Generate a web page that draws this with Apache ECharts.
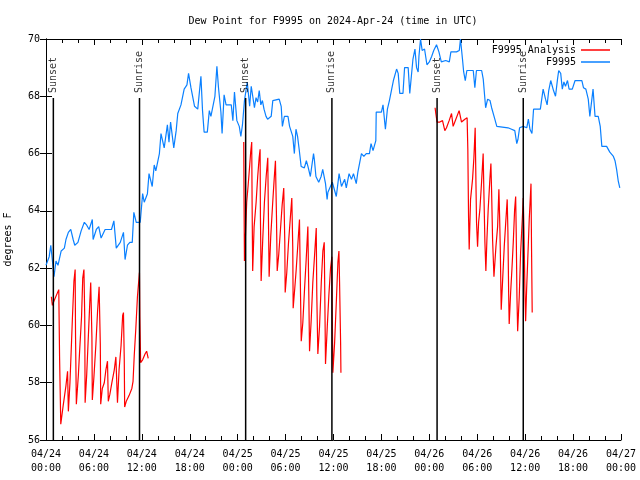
<!DOCTYPE html>
<html><head><meta charset="utf-8">
<script src="https://cdn.jsdelivr.net/npm/echarts@6/dist/echarts.min.js"></script>
<style>html,body{margin:0;padding:0;background:#fff}#c{width:640px;height:480px}</style>
</head><body><div id="c"></div>
<script>
// hours since 2024-04-24 00:00 UTC
const xTickLabels = ["04/24\n00:00","04/24\n06:00","04/24\n12:00","04/24\n18:00","04/25\n00:00","04/25\n06:00","04/25\n12:00","04/25\n18:00","04/26\n00:00","04/26\n06:00","04/26\n12:00","04/26\n18:00","04/27\n00:00"];
const yTicks = [56,58,60,62,64,66,68,70];

const blueHours = [0,0.4,0.6,0.9,1.0,1.25,1.5,1.9,2.3,2.5,2.8,3.1,3.4,3.6,4.0,4.4,4.8,5.1,5.4,5.8,5.9,6.3,6.6,6.9,7.4,8.2,8.5,8.8,9.3,9.7,9.9,10.2,10.5,10.8,11.0,11.3,11.8,12.1,12.3,12.7,12.9,13.3,13.55,13.75,14.2,14.4,14.8,15.2,15.4,15.6,16.0,16.3,16.5,16.9,17.3,17.65,17.85,18.15,18.6,19.0,19.2,19.4,19.6,19.8,20.2,20.45,20.65,20.85,21.15,21.4,21.6,21.9,22.05,22.3,22.55,23.2,23.4,23.6,23.9,24.2,24.4,24.6,24.85,25.2,25.5,25.7,25.9,26.1,26.3,26.5,26.7,26.9,27.1,27.3,27.55,27.75,28.2,28.4,28.6,29.2,29.45,29.6,29.85,30.3,30.5,30.9,31.1,31.3,31.5,31.7,31.95,32.35,32.6,32.8,33.1,33.35,33.5,33.6,33.8,34.15,34.45,34.65,35.0,35.2,35.3,35.5,35.85,36.1,36.35,36.7,37.0,37.4,37.6,37.95,38.25,38.5,38.85,39.05,39.5,39.8,40.1,40.5,40.7,40.95,41.3,41.35,42.0,42.2,42.5,42.75,43.0,43.25,43.5,43.9,44.1,44.3,44.7,44.9,45.35,45.55,45.75,45.95,46.2,46.4,46.6,46.7,46.9,47.1,47.4,47.7,48.0,48.3,48.55,48.9,49.2,49.5,50.05,50.5,50.7,51.4,51.75,51.9,52.15,52.3,52.5,52.7,53.5,53.7,53.9,54.55,54.75,55.05,55.3,55.6,55.8,56.0,56.2,56.45,56.6,57.85,58.3,58.7,58.95,59.1,59.3,59.75,60.2,60.4,60.6,60.85,61.05,61.9,62.25,62.55,62.75,62.95,63.2,63.55,63.8,64.05,64.2,64.45,64.65,64.85,65.05,65.3,65.5,65.9,66.25,67.1,67.3,67.6,67.9,68.1,68.3,68.5,68.75,69.15,69.4,69.6,70.2,70.6,71.05,71.25,71.45,71.65,71.85];
const blueDew = [62.1,62.4,62.8,62.0,61.7,62.25,62.1,62.6,62.7,63.0,63.25,63.35,63.0,62.8,62.9,63.3,63.6,63.5,63.35,63.7,63.0,63.35,63.45,63.05,63.35,63.35,63.65,62.7,62.9,63.25,62.3,62.8,62.9,62.9,63.95,63.6,63.6,64.6,64.3,64.6,65.3,64.85,65.6,65.4,66.0,66.7,66.2,67.0,66.4,67.1,66.2,66.8,67.4,67.7,68.25,68.4,68.8,68.3,67.65,67.55,67.6,68.7,67.5,66.75,66.75,67.5,67.3,67.3,68.0,69.05,68.3,67.45,66.7,68.05,67.7,67.7,67.15,68.15,67.15,66.95,66.6,67.0,67.85,68.5,67.65,68.35,68.3,67.6,67.95,67.8,68.2,67.7,67.85,67.55,67.3,67.2,67.3,67.85,67.9,67.9,67.65,66.95,67.3,67.3,66.95,66.6,66.0,66.85,66.6,66.15,65.55,65.5,65.75,65.55,65.2,65.7,66.0,65.8,65.2,65.0,65.2,65.45,64.95,64.4,64.65,64.6,65.0,65.0,64.5,65.3,64.85,65.1,64.8,65.3,65.1,65.3,64.95,65.35,66.0,65.9,66.0,66.0,66.35,66.1,66.45,67.45,67.45,67.7,66.85,67.55,67.85,68.2,68.55,68.95,68.8,68.1,68.1,69.0,69.0,68.1,68.1,69.3,69.65,69.0,68.85,69.4,70.0,69.6,69.65,69.1,69.2,69.4,69.6,69.8,69.55,69.2,69.25,69.2,69.55,69.55,69.6,70.0,69.3,68.85,68.55,68.9,68.9,68.3,68.9,68.9,68.6,67.6,67.9,67.85,67.6,67.55,67.2,66.95,66.9,66.9,66.85,66.8,66.35,66.5,66.9,66.95,66.9,67.2,66.85,66.7,67.55,67.55,68.25,67.9,67.7,68.2,68.55,68.2,68.0,68.6,68.9,68.8,68.25,68.5,68.35,68.55,68.25,68.25,68.55,68.55,68.3,68.25,67.9,67.3,67.3,68.25,67.3,67.3,66.95,66.25,66.25,66.05,65.9,65.75,65.45,65.05,64.8];

// analysis series; '-' marks a gap
const redHours = [0.67,0.8,1.0,1.6,1.7,1.85,2.15,2.5,2.7,2.8,3.0,3.2,3.3,3.5,3.65,3.7,3.8,4.05,4.2,4.45,4.6,4.75,4.85,4.9,5.1,5.3,5.5,5.6,5.75,5.8,6.0,6.25,6.45,6.65,6.8,6.85,7.05,7.3,7.5,7.7,7.8,8.0,8.25,8.55,8.75,8.95,9.15,9.4,9.6,9.7,9.8,9.85,10.05,10.4,10.75,10.9,11.05,11.25,11.45,11.7,11.75,11.85,12.1,12.4,12.6,12.8,
  18,
  24.76,24.8,24.85,24.97,25.13,25.3,25.47,25.63,25.76,25.81,25.88,26.06,26.31,26.51,26.69,26.81,26.85,26.94,27.14,27.35,27.57,27.77,27.85,27.94,28.14,28.39,28.57,28.73,28.86,28.95,29.15,29.36,29.57,29.77,29.9,29.95,30.15,30.36,30.58,30.78,30.9,30.95,31.15,31.33,31.53,31.74,31.83,31.96,32.16,32.37,32.58,32.79,32.91,33.0,33.21,33.41,33.63,33.84,33.91,34.04,34.25,34.47,34.67,34.84,34.92,35.0,35.22,35.42,35.63,35.8,35.85,35.92,36.14,36.35,36.55,36.68,36.76,36.89,36.93,
  42,
  48.72,48.81,48.97,49.31,49.65,49.94,50.15,50.48,50.78,50.98,51.32,51.73,52.03,52.45,52.73,52.82,52.91,52.99,53.16,53.41,53.58,53.74,53.83,53.91,54.04,54.17,54.33,54.54,54.74,54.83,54.96,55.08,55.21,55.37,55.58,55.71,55.8,55.92,56.09,56.34,56.55,56.71,56.8,56.88,57.0,57.18,57.38,57.59,57.75,57.84,57.93,58.0,58.18,58.34,58.51,58.68,58.81,58.88,58.97,59.06,59.26,59.43,59.64,59.76,59.85,59.97,60.06,60.18,60.31,60.51,60.73,60.8,60.88];
const redDew = [61.0,60.7,60.85,61.25,58.9,56.55,57.2,57.9,58.4,57.0,58.0,59.45,60.2,61.55,61.95,59.6,57.25,58.25,59.05,60.3,61.65,61.95,60.3,57.3,58.3,59.6,60.9,61.5,59.6,57.4,58.2,59.35,60.45,61.35,59.35,57.25,57.8,58.0,58.45,58.75,57.35,57.6,58.0,58.45,58.9,57.3,58.45,59.3,60.35,60.45,58.8,57.15,57.35,57.55,57.8,58.05,58.95,59.9,61.0,61.85,60.3,58.7,58.8,59.0,59.1,58.85,
  '-',
  66.4,64.35,62.25,63.1,64.3,64.85,65.45,66.05,66.4,64.2,61.9,63.45,64.3,65.2,65.85,66.15,63.8,61.55,63.0,64.3,65.2,65.85,63.8,61.7,63.1,64.3,65.1,65.75,63.8,61.9,62.5,63.35,64.2,64.8,62.95,61.15,61.85,62.85,63.7,64.45,62.7,60.6,61.3,61.95,62.8,63.7,61.85,59.45,60.1,61.25,62.3,63.45,61.05,59.1,60.2,61.5,62.45,63.4,61.05,59.0,59.95,61.5,62.6,62.9,60.8,58.65,59.95,61.05,62.0,62.4,60.35,58.35,59.4,60.8,62.2,62.6,61.5,59.4,58.35,
  '-',
  67.6,67.4,67.1,67.1,67.15,66.8,66.9,67.15,67.4,66.95,67.2,67.5,67.1,67.2,67.25,66.15,63.8,62.65,64.4,65.1,65.85,66.9,65.1,63.6,62.75,63.6,64.05,65.0,66.0,64.65,62.9,61.9,63.0,64.05,65.1,65.65,64.65,63.0,61.7,62.75,63.45,64.75,63.8,62.75,60.55,61.6,62.75,63.7,64.4,63.25,61.15,60.05,61.15,61.95,62.9,64.05,64.5,63.25,61.0,59.8,61.0,62.55,63.7,64.45,63.35,61.2,60.15,61.25,62.2,63.7,64.95,62.65,60.45];

const sunHours = [0.92, 11.71, 25.0, 35.8, 48.97, 59.76];
const sunLabels = ["Sunset","Sunrise","Sunset","Sunrise","Sunset","Sunrise"];
const sunTop = 67.94;

const FONT = '"DejaVu Sans Mono", "Liberation Mono", monospace';
const zip = (a, b) => a.map((v, i) => [v, b[i]]);

const sunLineSeries = sunHours.map(h => ({
  type: 'line', data: [[h, 56], [h, sunTop]], symbol: 'none', silent: true,
  lineStyle: { color: '#000', width: 1.5 }, z: 4
}));

const axisCommon = {
  axisLine: { show: true, lineStyle: { color: '#000', width: 1 } },
  splitLine: { show: false }
};

const option = {
  animation: false,
  backgroundColor: '#fff',
  title: {
    text: 'Dew Point for F9995 on 2024-Apr-24 (time in UTC)',
    left: 328, top: 11, textAlign: 'center',
    textStyle: { fontFamily: FONT, fontSize: 10, fontWeight: 'normal', color: '#000' }
  },
  legend: {
    data: ['F9995 Analysis', 'F9995'], orient: 'vertical', align: 'right',
    right: 25, top: 40, itemGap: 2, itemWidth: 29, itemHeight: 1.5, icon: 'rect',
    textStyle: { fontFamily: FONT, fontSize: 10, color: '#000' }
  },
  grid: { left: 46, right: 19, top: 39, bottom: 40, containLabel: false, outerBoundsMode: 'none' },
  xAxis: [
    Object.assign({
      type: 'value', min: 0, max: 72, interval: 6,
      axisTick: { inside: true, length: 6, lineStyle: { color: '#000' } },
      minorTick: { show: true, splitNumber: 3, length: 4, lineStyle: { color: '#000' } },
      axisLabel: { fontFamily: FONT, fontSize: 10, color: '#000', margin: 7, lineHeight: 14,
        formatter: v => xTickLabels[Math.round(v / 6)] }
    }, axisCommon),
    Object.assign({
      type: 'value', min: 0, max: 72, interval: 6, position: 'top',
      axisTick: { inside: true, length: 6, lineStyle: { color: '#000' } },
      minorTick: { show: true, splitNumber: 3, length: 4, lineStyle: { color: '#000' } },
      axisLabel: { show: false }
    }, axisCommon)
  ],
  yAxis: [
    Object.assign({
      type: 'value', min: 56, max: 70, interval: 2,
      name: 'degrees F', nameLocation: 'middle', nameGap: 33,
      nameTextStyle: { fontFamily: FONT, fontSize: 10, color: '#000' },
      axisTick: { inside: true, length: 6, lineStyle: { color: '#000' } },
      axisLabel: { fontFamily: FONT, fontSize: 10, color: '#000', margin: 6,
        formatter: v => String(yTicks.indexOf(v) >= 0 ? v : '') }
    }, axisCommon),
    Object.assign({
      type: 'value', min: 56, max: 70, interval: 2, position: 'right',
      axisTick: { inside: true, length: 6, lineStyle: { color: '#000' } },
      axisLabel: { show: false }
    }, axisCommon)
  ],
  series: [
    { name: 'F9995 Analysis', type: 'line', data: zip(redHours, redDew), symbol: 'none',
      connectNulls: false, color: '#ff0000', lineStyle: { color: '#ff0000', width: 1.2 }, z: 2 },
    { name: 'F9995', type: 'line', data: zip(blueHours, blueDew), symbol: 'none',
      color: '#0a80ff', lineStyle: { color: '#0a80ff', width: 1.2 }, z: 3 },
    ...sunLineSeries,
    { type: 'scatter', data: sunHours.map(h => [h, sunTop]), symbolSize: 0, silent: true, z: 5,
      label: { show: true, position: 'top', distance: 5, rotate: 90, align: 'left', verticalAlign: 'middle',
        fontFamily: FONT, fontSize: 10, color: '#000',
        formatter: p => sunLabels[p.dataIndex] } }
  ]
};
echarts.init(document.getElementById('c')).setOption(option);
</script></body></html>
